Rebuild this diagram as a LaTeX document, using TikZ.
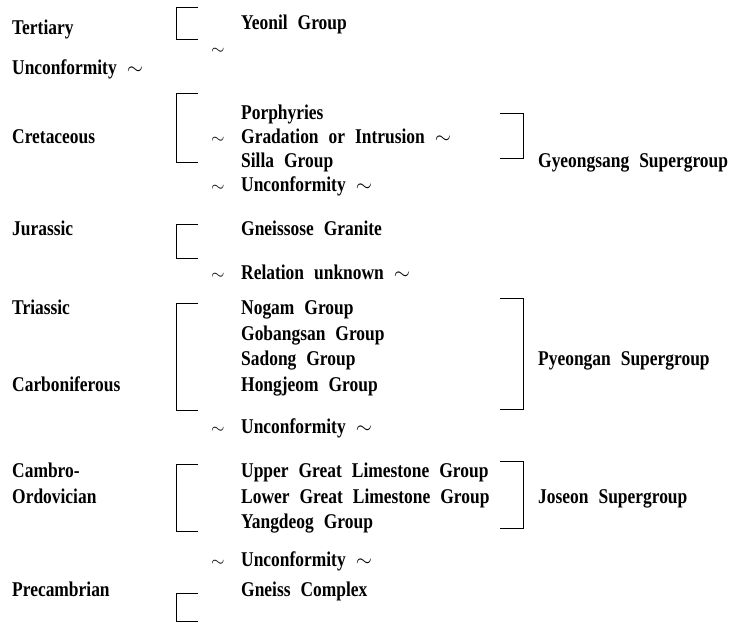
\documentclass[tikz,border=0pt]{standalone}
\usepackage{fontspec}
\setmainfont{Liberation Serif}[FakeStretch=0.83, WordSpace=2.3]
\usetikzlibrary{positioning}

\tikzset{
    lbl/.style={anchor=base west, inner sep=0pt, font=\fontsize{21}{21}\selectfont\bfseries},
    tld/.style={anchor=base west, inner sep=0pt, font=\fontsize{19}{19}\selectfont},
    brk/.style={line width=0.8pt}
}

\begin{document}
\begin{tikzpicture}[x=1pt, y=-1pt]
    \useasboundingbox (0,0) rectangle (730,623);

    % ages
    \node[lbl] (tert) at (12,35) {Tertiary};
    \node[lbl] (unc0) at (12,75) {Unconformity $\sim$};
    \node[lbl] (cret) at (12,143) {Cretaceous};
    \node[lbl] (jura) at (12,235) {Jurassic};
    \node[lbl] (tria) at (12,314) {Triassic};
    \node[lbl] (carb) at (12,391) {Carboniferous};
    \node[lbl] (camb) at (12,477) {Cambro-};
    \node[lbl] (ordo) at (12,503) {Ordovician};
    \node[lbl] (prec) at (12,596) {Precambrian};

    % units
    \node[lbl] (yeonil) at (241,30) {Yeonil Group};
    \node[tld] (t0) at (211,55) {$\sim$};
    \node[lbl] (porph) at (241,119) {Porphyries};
    \node[tld] (t1) at (211,143) {$\sim$};
    \node[lbl] (grad) at (241,143) {Gradation or Intrusion $\sim$};
    \node[lbl] (silla) at (241,167) {Silla Group};
    \node[tld] (t2) at (211,191) {$\sim$};
    \node[lbl] (unc1) at (241,191) {Unconformity $\sim$};
    \node[lbl] (gneissose) at (241,235) {Gneissose Granite};
    \node[tld] (t3) at (211,279) {$\sim$};
    \node[lbl] (rel) at (241,279) {Relation unknown $\sim$};
    \node[lbl] (nogam) at (241,314) {Nogam Group};
    \node[lbl] (gobang) at (241,340) {Gobangsan Group};
    \node[lbl] (sadong) at (241,365) {Sadong Group};
    \node[lbl] (hongj) at (241,391) {Hongjeom Group};
    \node[tld] (t4) at (211,433) {$\sim$};
    \node[lbl] (unc2) at (241,433) {Unconformity $\sim$};
    \node[lbl] (upper) at (241,477) {Upper Great Limestone Group};
    \node[lbl] (lower) at (241,503) {Lower Great Limestone Group};
    \node[lbl] (yang) at (241,528) {Yangdeog Group};
    \node[tld] (t5) at (211,566) {$\sim$};
    \node[lbl] (unc3) at (241,566) {Unconformity $\sim$};
    \node[lbl] (gcomp) at (241,596) {Gneiss Complex};

    % supergroups
    \node[lbl] (gyeong) at (538,167) {Gyeongsang Supergroup};
    \node[lbl] (pyeong) at (538,365) {Pyeongan Supergroup};
    \node[lbl] (joseon) at (538,503) {Joseon Supergroup};

    % brackets
    \foreach \t/\b in {7/39, 93/162, 224/258, 303/410, 464/531, 593/621}
        \draw[brk] (198,\t) -- (176,\t) -- (176,\b) -- (198,\b);
    \foreach \t/\b in {113/158, 298/409, 461/528}
        \draw[brk] (500,\t) -- (523,\t) -- (523,\b) -- (500,\b);
\end{tikzpicture}
\end{document}
